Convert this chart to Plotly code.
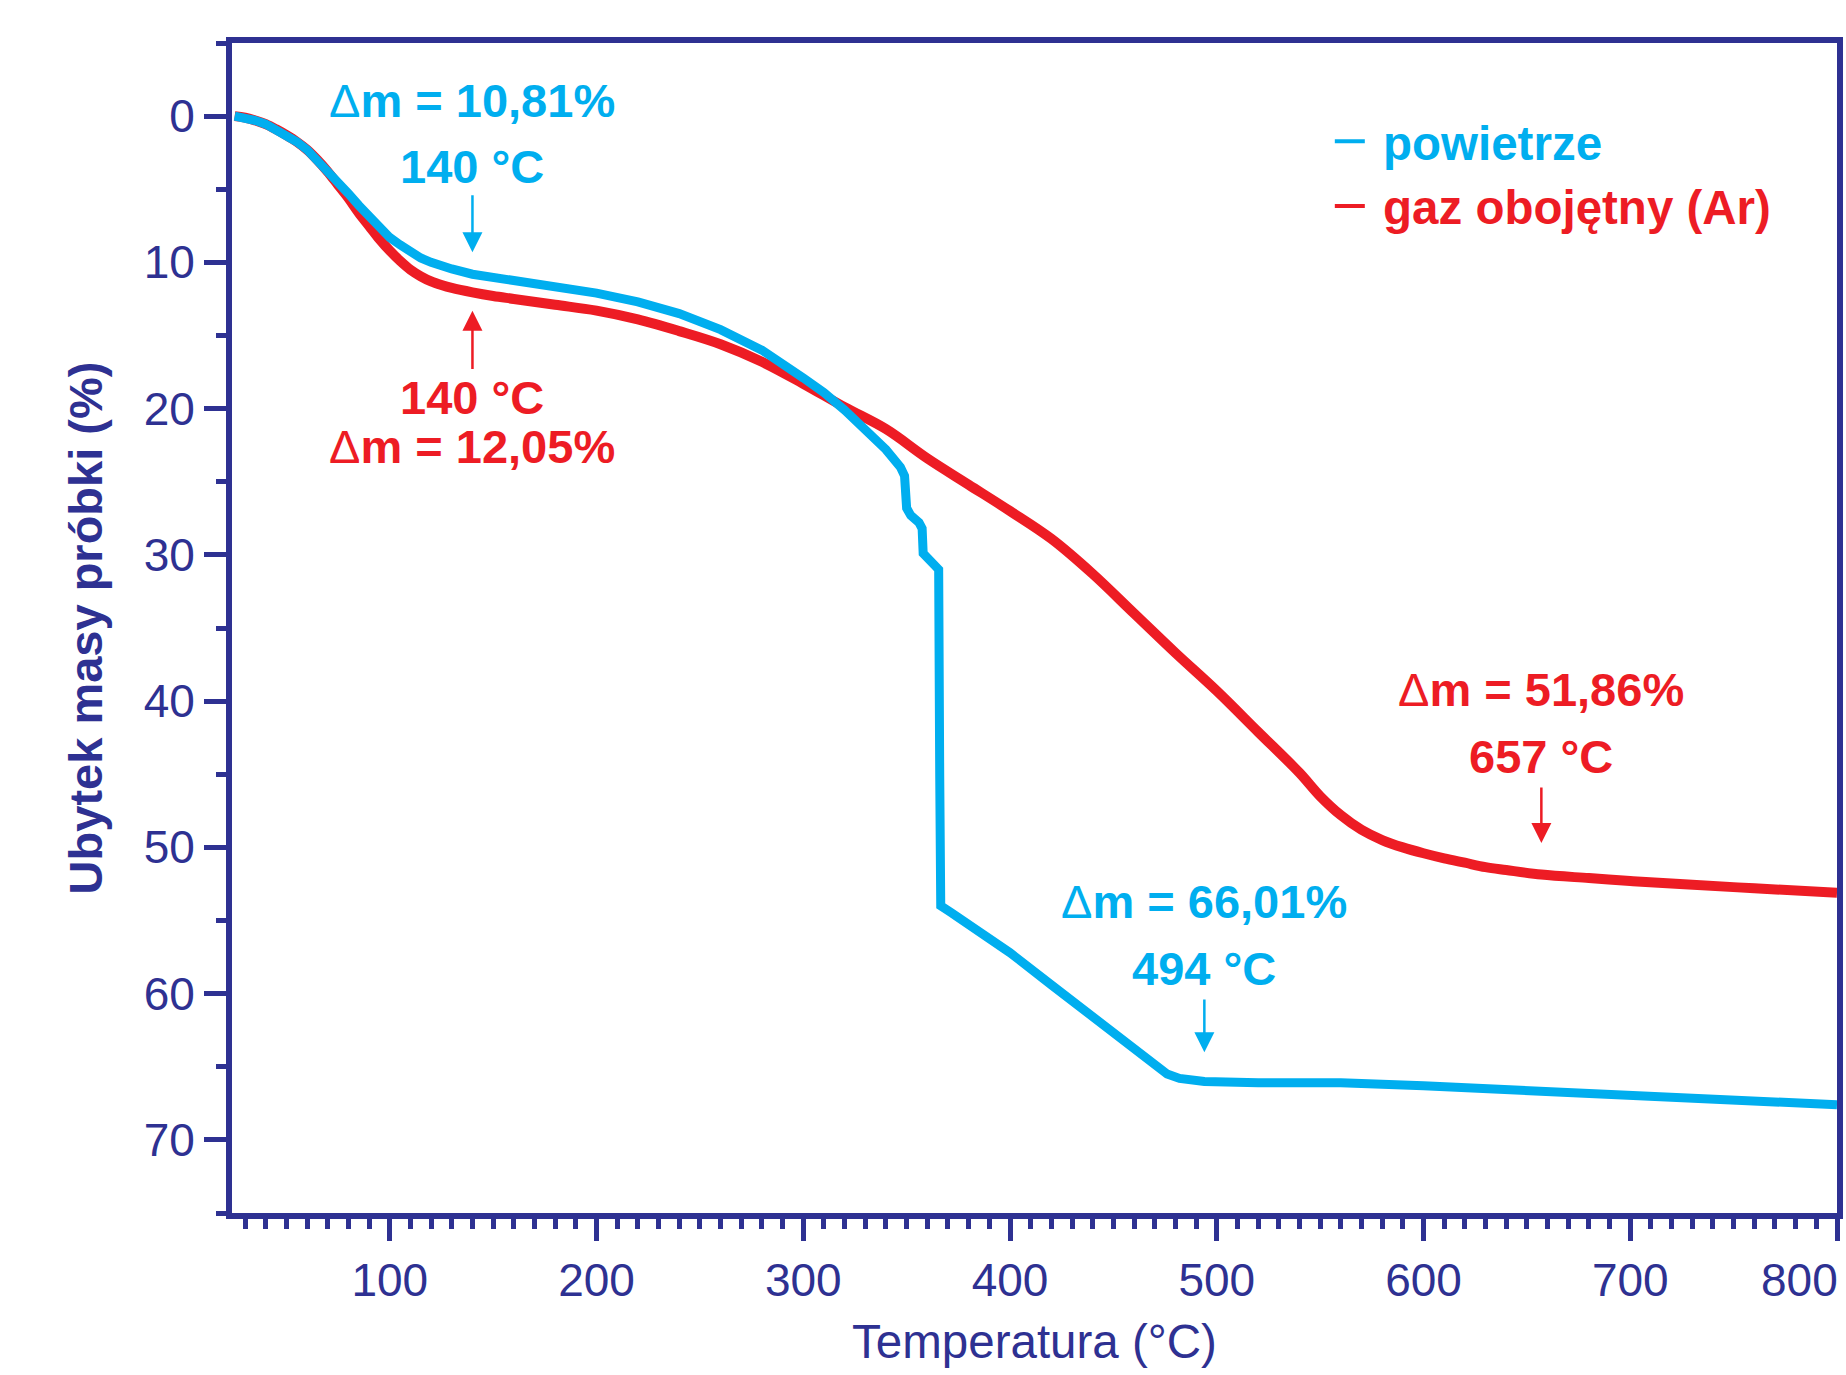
import plotly.graph_objects as go

# ---- data ----
air_T = [25, 30, 35, 40, 45, 50, 55, 60, 65, 70, 75, 80, 85, 90, 95, 100, 105, 110, 115, 120, 125, 130,
         140, 150, 160, 180, 200, 220, 240, 260, 280, 300, 310, 320, 330, 340, 347, 349, 350, 352, 356,
         357.5, 358, 362, 365.5, 366, 366.5, 372, 385, 400, 420, 440, 460, 470, 476, 482, 488, 494,
         520, 560, 600, 650, 700, 750, 800]
air_loss = [0, 0.1, 0.3, 0.55, 0.9, 1.3, 1.75, 2.3, 3.0, 3.7, 4.5, 5.3, 6.1, 6.9, 7.6, 8.3, 8.8, 9.3, 9.7,
            10.0, 10.25, 10.45, 10.81, 11.0, 11.2, 11.6, 12.1, 12.7, 13.5, 14.6, 16.0, 17.9, 18.9, 20.1,
            21.4, 22.8, 24.0, 24.6, 26.8, 27.3, 27.8, 28.2, 29.9, 30.4, 31.0, 45.0, 54.0, 54.5, 55.7,
            57.2, 59.4, 61.6, 63.8, 64.9, 65.5, 65.8, 65.95, 66.01, 66.1, 66.1, 66.3, 66.6, 67.0, 67.2, 67.6]

ar_T = [25, 30, 35, 40, 45, 50, 55, 60, 65, 70, 75, 80, 85, 90, 95, 100, 105, 110, 115, 120, 125, 130,
        140, 150, 160, 180, 200, 220, 240, 260, 280, 300, 320, 340, 360, 380, 400, 420, 440, 460, 480,
        500, 520, 540, 550, 560, 570, 580, 590, 600, 610, 620, 630, 640, 657, 680, 700, 724, 760, 800]
ar_loss = [0, 0.1, 0.3, 0.55, 0.9, 1.3, 1.75, 2.3, 3.0, 3.8, 4.7, 5.6, 6.6, 7.5, 8.4, 9.2, 9.9, 10.5,
           10.95, 11.3, 11.55, 11.75, 12.05, 12.3, 12.5, 12.9, 13.3, 13.9, 14.7, 15.6, 16.8, 18.3, 19.9,
           21.4, 23.4, 25.2, 27.0, 28.9, 31.3, 34.0, 36.7, 39.3, 42.1, 44.9, 46.5, 47.8, 48.8, 49.5,
           50.0, 50.4, 50.75, 51.05, 51.35, 51.55, 51.86, 52.1, 52.3, 52.5, 52.8, 53.1]

series_names = ["powietrze", "gaz obojętny (Ar)"]
x_tick_vals = [100, 200, 300, 400, 500, 600, 700, 800]
x_tick_labels = ["100", "200", "300", "400", "500", "600", "700", "800"]
y_tick_vals = [0, 10, 20, 30, 40, 50, 60, 70]

# marked points: (temperature, mass loss, text)
air_marks = [(140, 10.81, "10,81%"), (494, 66.01, "66,01%")]
ar_marks = [(140, 12.05, "12,05%"), (657, 51.86, "51,86%")]

CYAN = "#00AEEF"
RED = "#ED1C24"
NAVY = "#2E3192"
FONT = "Liberation Sans, Arial, sans-serif"

fig = go.Figure()
fig.add_trace(go.Scatter(x=ar_T, y=ar_loss, mode="lines",
                         line=dict(color=RED, width=10, shape="spline", smoothing=1.0),
                         showlegend=False))
fig.add_trace(go.Scatter(x=air_T, y=air_loss, mode="lines", line=dict(color=CYAN, width=9),
                         showlegend=False))
# legend entries
fig.add_trace(go.Scatter(x=[None], y=[None], mode="lines", line=dict(color=CYAN, width=4),
                         name=f"<b><span style='color:{CYAN}'>\u00a0{series_names[0]}</span></b>"))
fig.add_trace(go.Scatter(x=[None], y=[None], mode="lines", line=dict(color=RED, width=4),
                         name=f"<b><span style='color:{RED}'>\u00a0{series_names[1]}</span></b>"))

ann = []
def label(x, y, text, color):
    ann.append(dict(x=x, y=y, xref="x", yref="y", text=text, showarrow=False,
                    font=dict(family=FONT, size=47, color=color)))

def arrow(x, y_from, y_to, color):
    ann.append(dict(x=x, y=y_to, ax=x, ay=y_from, xref="x", yref="y", axref="x", ayref="y",
                    text="", showarrow=True, arrowhead=2, arrowsize=1.6, arrowwidth=2.5,
                    arrowcolor=color))

# air, 140 °C (above curve, arrow down)
T, m, s = air_marks[0]
label(T, -1.05, f"Δ<b>m = {s}</b>", CYAN)
label(T, 3.45, f"<b>{T} °C</b>", CYAN)
arrow(T, 5.3, 9.3, CYAN)
# argon, 140 °C (below curve, arrow up)
T, m, s = ar_marks[0]
arrow(T, 17.4, 13.3, RED)
label(T, 19.25, f"<b>{T} °C</b>", RED)
label(T, 22.6, f"Δ<b>m = {s}</b>", RED)
# argon, 657 °C
T, m, s = ar_marks[1]
label(T, 39.2, f"Δ<b>m = {s}</b>", RED)
label(T, 43.8, f"<b>{T} °C</b>", RED)
arrow(T, 45.8, 49.7, RED)
# air, 494 °C
T, m, s = air_marks[1]
label(T, 53.7, f"Δ<b>m = {s}</b>", CYAN)
label(T, 58.3, f"<b>{T} °C</b>", CYAN)
arrow(T, 60.3, 64.0, CYAN)

# last x tick label sits left of its tick (as in the reference) so it stays inside the page
ann.append(dict(x=x_tick_vals[-1], y=0, xref="x", yref="paper", text=x_tick_labels[-1],
                showarrow=False, xanchor="center", yanchor="middle", xshift=-38, yshift=-67,
                font=dict(family=FONT, size=46, color=NAVY)))
x_tick_text = x_tick_labels[:-1] + [""]

fig.update_layout(
    width=1846, height=1375,
    margin=dict(l=232, r=9, t=43, b=162, autoexpand=False),
    paper_bgcolor="white", plot_bgcolor="white",
    font=dict(family=FONT, size=46, color=NAVY),
    annotations=ann,
    legend=dict(x=0.684, y=0.948, xanchor="left", yanchor="top", bgcolor="rgba(0,0,0,0)",
                font=dict(family=FONT, size=47.5), itemwidth=30, tracegroupgap=0),
    xaxis=dict(range=[23.7, 800], showgrid=False, zeroline=False, automargin=False,
               showline=True, linecolor=NAVY, linewidth=6, mirror=True,
               tickmode="array", tickvals=x_tick_vals, ticktext=x_tick_text,
               ticks="outside", ticklen=22, tickwidth=5, tickcolor=NAVY,
               tickfont=dict(family=FONT, size=46, color=NAVY),
               minor=dict(dtick=10, tick0=0, ticks="outside", ticklen=10, tickwidth=5, tickcolor=NAVY),
               title=dict(text="Temperatura (°C)", font=dict(family=FONT, size=47.5, color=NAVY), standoff=22)),
    yaxis=dict(range=[75, -5], showgrid=False, zeroline=False, automargin=False,
               showline=True, linecolor=NAVY, linewidth=6, mirror=True,
               tickmode="array", tickvals=y_tick_vals,
               ticks="outside", ticklen=22, tickwidth=5, tickcolor=NAVY,
               tickfont=dict(family=FONT, size=46, color=NAVY),
               minor=dict(dtick=5, tick0=0, ticks="outside", ticklen=10, tickwidth=5, tickcolor=NAVY),
               title=dict(text="<b>Ubytek masy próbki (%)</b>", font=dict(family=FONT, size=47, color=NAVY),
                          standoff=28)),
)

fig.write_html("out.html")
